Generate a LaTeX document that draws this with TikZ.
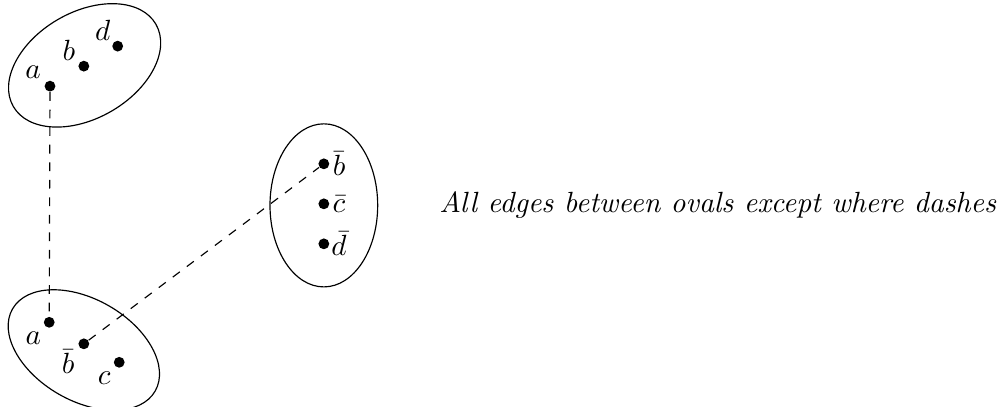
\documentclass[tikz,border=0pt]{standalone}
\usepackage{amsmath}
\usepackage{tikz}

\tikzset{
    pt/.style={circle, fill=black, inner sep=0pt, minimum size=3.7pt},
}

\begin{document}
\begin{tikzpicture}[>=latex, scale=0.925]
    \useasboundingbox (0,0) rectangle (13,-5.28);
    % ovals
    \draw[rotate around={30:(1.10,-0.85)}] (1.10,-0.85) ellipse (1.07 and 0.69);
    \draw[rotate around={-30:(1.09,-4.55)}] (1.09,-4.55) ellipse (1.07 and 0.66);
    \draw (4.21,-2.67) ellipse (0.70 and 1.06);
    % top oval
    \node[pt, label={[xshift=-5.8pt, yshift=4.8pt]center:$a$}] (ta) at (0.65,-1.12) {};
    \node[pt, label={[xshift=-5.1pt, yshift=5.4pt]center:$b$}] (tb) at (1.09,-0.86) {};
    \node[pt, label={[xshift=-5.1pt, yshift=5.4pt]center:$d$}] (td) at (1.53,-0.60) {};
    % bottom oval
    \node[pt, label={[xshift=-5.4pt, yshift=-5.4pt]center:$a$}] (ba) at (0.64,-4.19) {};
    \node[pt, label={[xshift=-5.4pt, yshift=-6.1pt]center:$\bar{b}$}] (bb) at (1.09,-4.47) {};
    \node[pt, label={[xshift=-5.1pt, yshift=-5.4pt]center:$c$}] (bc) at (1.55,-4.71) {};
    % right oval
    \node[pt, label={[xshift=5.2pt]center:$\bar{b}$}] (rb) at (4.21,-2.13) {};
    \node[pt, label={[xshift=5.2pt]center:$\bar{c}$}] (rc) at (4.21,-2.65) {};
    \node[pt, label={[xshift=5.2pt]center:$\bar{d}$}] (rd) at (4.21,-3.17) {};
    \draw[dashed] (ta) -- (ba);
    \draw[dashed] (bb) -- (rb);
    \node[anchor=east, inner sep=0pt] (note) at (12.96,-2.66) {\textit{All edges between ovals except where dashes}};
\end{tikzpicture}
\end{document}
